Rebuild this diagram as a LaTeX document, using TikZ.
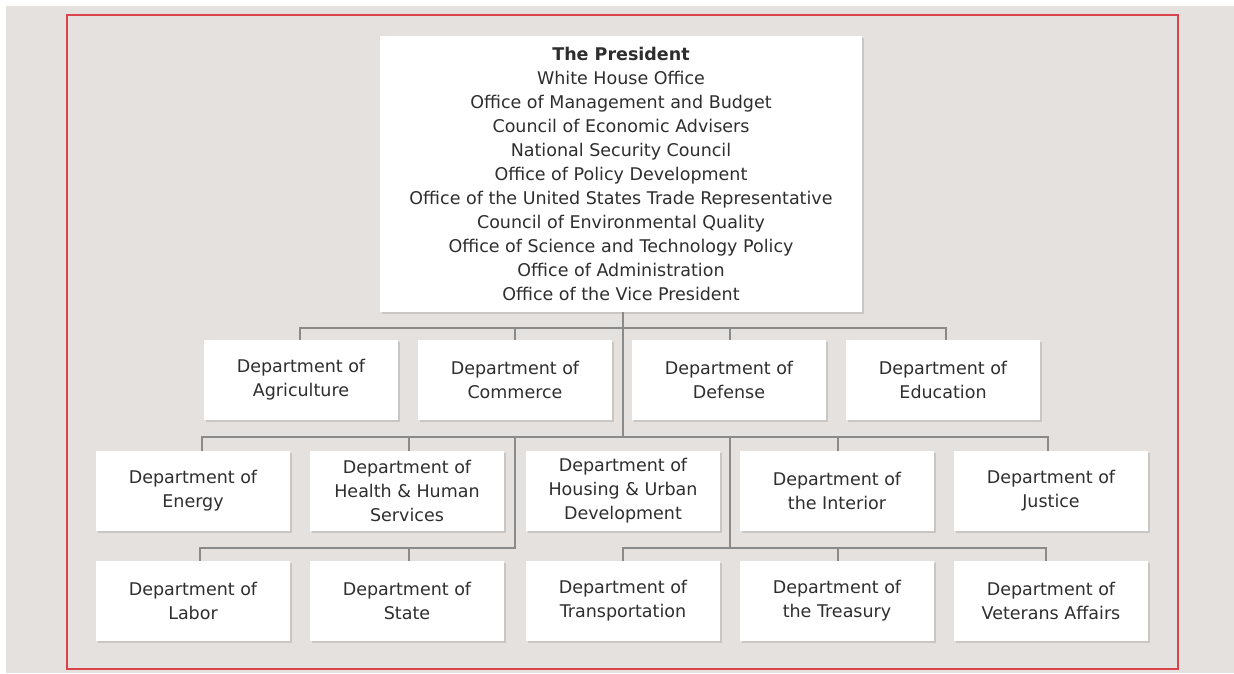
\documentclass[tikz,border=0pt]{standalone}
\usepackage{fontspec}
\setmainfont{DejaVu Sans}
\usetikzlibrary{shadows}
\definecolor{bggrey}{HTML}{E5E1DE}
\definecolor{framered}{HTML}{D9444A}
\definecolor{linegrey}{HTML}{8A8A8A}
\definecolor{txt}{HTML}{2E2E2E}
\definecolor{shadowgrey}{HTML}{C9C6C4}
\begin{document}
\begin{tikzpicture}[x=1pt,y=-1pt,
  orgbox/.style={fill=white, inner sep=0pt, align=center, text=txt,
    font=\fontsize{17.5}{24}\selectfont,
    drop shadow={shadow xshift=1.5pt, shadow yshift=-1.5pt, fill=shadowgrey, opacity=1}},
  dept/.style={orgbox, minimum width=194pt, minimum height=80pt},
  conn/.style={draw=linegrey, line width=1.5pt}]
\useasboundingbox (0,0) rectangle (1234,673);
\fill[white] (0,0) rectangle (1234,673);
\fill[bggrey] (6,6) rectangle (1234,673);
\draw[framered, line width=2pt] (67,15) rectangle (1178,669);

% president
\node[orgbox, minimum width=482pt, minimum height=276pt] (pres) at (621,174)
  {\textbf{The President}\\White House Office\\Office of Management and Budget\\Council of Economic Advisers\\National Security Council\\Office of Policy Development\\Office of the United States Trade Representative\\Council of Environmental Quality\\Office of Science and Technology Policy\\Office of Administration\\Office of the Vice President};

% row 1
\node[dept] (agr) at (301,380) {Department of\\Agriculture};
\node[dept] (com) at (515,380) {Department of\\Commerce};
\node[dept] (def) at (729,380) {Department of\\Defense};
\node[dept] (edu) at (943,380) {Department of\\Education};
% row 2
\node[dept] (ene) at (193,491) {Department of\\Energy};
\node[dept] (hhs) at (407,491) {Department of\\Health \& Human\\Services};
\node[dept] (hud) at (623,491) {Department of\\Housing \& Urban\\Development};
\node[dept] (int) at (837,491) {Department of\\the Interior};
\node[dept] (jus) at (1051,491) {Department of\\Justice};
% row 3
\node[dept] (lab) at (193,601) {Department of\\Labor};
\node[dept] (sta) at (407,601) {Department of\\State};
\node[dept] (tra) at (623,601) {Department of\\Transportation};
\node[dept] (tre) at (837,601) {Department of\\the Treasury};
\node[dept] (vet) at (1051,601) {Department of\\Veterans Affairs};

% bus coordinates
\coordinate (b1l) at (300,328);
\coordinate (b1r) at (946,328);
\coordinate (b2l) at (202,437);
\coordinate (b2r) at (1048,437);
\coordinate (t2)  at (623,437);
\coordinate (s3l) at (515,437);
\coordinate (s3r) at (730,437);
\coordinate (b3l) at (200,548);
\coordinate (b3lr) at (515,548);
\coordinate (b3rl) at (623,548);
\coordinate (b3r) at (1046,548);

\begin{scope}[conn]
% trunk
\draw (pres.south -| t2) -- (t2);
% row 1
\draw (b1l |- agr.north) -- (b1l) -- (b1r) -- (b1r |- edu.north);
\draw (515,328) -- (515,328 |- com.north);
\draw (730,328) -- (730,328 |- def.north);
% row 2
\draw (b2l |- ene.north) -- (b2l) -- (b2r) -- (b2r |- jus.north);
\draw (409,437) -- (409,437 |- hhs.north);
\draw (838,437) -- (838,437 |- int.north);
% row 3 left
\draw (s3l) -- (b3lr) -- (b3l) -- (b3l |- lab.north);
\draw (409,548) -- (409,548 |- sta.north);
% row 3 right
\draw (s3r) -- (730,548);
\draw (b3rl |- tra.north) -- (b3rl) -- (b3r) -- (b3r |- vet.north);
\draw (838,548) -- (838,548 |- tre.north);
\end{scope}
\end{tikzpicture}
\end{document}
